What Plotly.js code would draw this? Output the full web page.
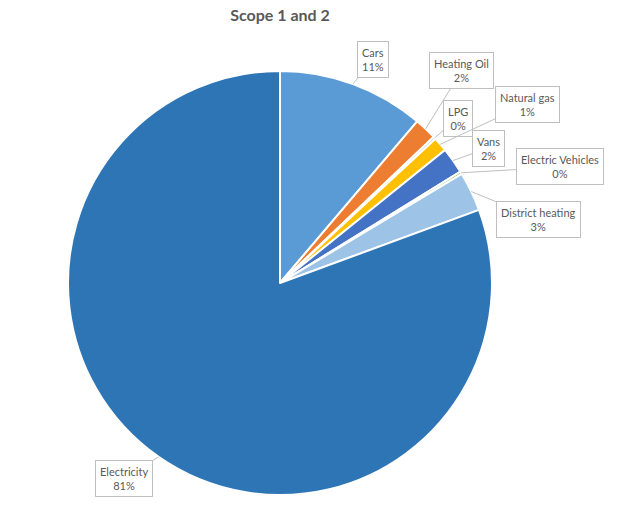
<!DOCTYPE html>
<html>
<head>
<meta charset="utf-8">
<script src="https://cdn.plot.ly/plotly-3.0.1.min.js"></script>
<style>html,body{margin:0;padding:0;background:#fff;}#chart{width:623px;height:516px;}</style>
</head>
<body>
<div id="chart"></div>
<script>
// Data
const categories = ["Cars", "Heating Oil", "LPG", "Natural gas", "Vans", "Electric Vehicles", "District heating", "Electricity"];
const values = [11.2, 1.7, 0.2, 1.1, 2.0, 0.2, 3.0, 80.6];
const colors = ["#5B9BD5", "#ED7D31", "#A5A5A5", "#FFC000", "#4472C4", "#70AD47", "#9DC3E6", "#2E75B6"];
// Label box centres (px) in the 623x516 page
const labelPos = [[373, 59], [462, 70], [458, 118], [527, 104], [488, 148], [560, 167], [538, 219], [124, 478]];

const W = 623, H = 516;
const cx = 280, cy = 283, R = 212;
const domX = [(cx - R) / W, (cx + R) / W];
const domY = [1 - (cy + R) / H, 1 - (cy - R) / H];

const total = values.reduce((a, b) => a + b, 0);
let cum = 0;
const annotations = [];
values.forEach((v, i) => {
  const mid = (cum + v / 2) / total * 2 * Math.PI;
  cum += v;
  const tx = cx + R * Math.sin(mid);
  const ty = cy - R * Math.cos(mid);
  annotations.push({
    xref: "paper", yref: "paper",
    x: tx / W, y: 1 - ty / H,
    ax: labelPos[i][0] - tx, ay: labelPos[i][1] - ty,
    text: categories[i] + "<br>" + Math.round(v / total * 100) + "%",
    showarrow: true, arrowhead: 0, arrowwidth: 1, arrowcolor: "#BFBFBF",
    bordercolor: "#BFBFBF", borderwidth: 1, borderpad: 4, bgcolor: "#FFFFFF",
    font: {family: "Lato, 'Liberation Sans', sans-serif", size: 11, color: "#595959"},
    align: "center"
  });
});

const trace = {
  type: "pie",
  labels: categories,
  values: values,
  sort: false,
  direction: "clockwise",
  rotation: 0,
  textinfo: "none",
  hoverinfo: "label+percent",
  marker: {colors: colors, line: {color: "#FFFFFF", width: 2}},
  domain: {x: domX, y: domY},
  showlegend: false
};

const layout = {
  width: W, height: H,
  margin: {l: 0, r: 0, t: 0, b: 0},
  paper_bgcolor: "#FFFFFF",
  showlegend: false,
  title: {
    text: "<b>Scope 1 and 2</b>",
    x: 280 / W, xanchor: "center", xref: "paper",
    y: 1 - 15 / H, yanchor: "middle", yref: "container",
    font: {family: "Lato, 'Liberation Sans', sans-serif", size: 16, color: "#595959"}
  },
  annotations: annotations
};

Plotly.newPlot("chart", [trace], layout, {displayModeBar: false, staticPlot: true});
</script>
</body>
</html>
